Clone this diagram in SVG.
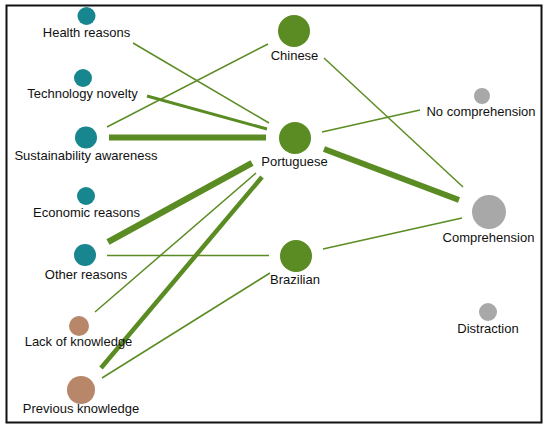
<svg xmlns="http://www.w3.org/2000/svg" width="550" height="430" viewBox="0 0 550 430">
<style>
text{font-family:"Liberation Sans",Arial,sans-serif;font-size:13px;fill:#111;text-anchor:middle}
.e{stroke:#5b8c23;fill:none;stroke-linecap:butt}
.t{fill:#17868f}.g{fill:#5b8c23}.b{fill:#b8876a}.y{fill:#a8a8a8}
</style>
<rect x="0" y="0" width="550" height="430" fill="#fff"/>
<rect x="6.5" y="5.5" width="535" height="417" fill="none" stroke="#111" stroke-width="2"/>
<g id="connectors">
<line class="e" x1="133" y1="43" x2="269" y2="123" stroke-width="1.5"/>
<line class="e" x1="107" y1="127" x2="268" y2="44" stroke-width="1.5"/>
<line class="e" x1="147" y1="96" x2="267" y2="129" stroke-width="3"/>
<line class="e" x1="109" y1="137.5" x2="266" y2="137.5" stroke-width="6"/>
<line class="e" x1="108" y1="242" x2="252" y2="163" stroke-width="6.5"/>
<line class="e" x1="95" y1="312" x2="256" y2="173" stroke-width="1.5"/>
<line class="e" x1="101" y1="368" x2="262" y2="177" stroke-width="4.5"/>
<line class="e" x1="107" y1="255.5" x2="269" y2="255.5" stroke-width="1.5"/>
<line class="e" x1="102" y1="378" x2="270" y2="273" stroke-width="1.5"/>
<line class="e" x1="324" y1="58" x2="463" y2="187" stroke-width="1.5"/>
<line class="e" x1="322" y1="132" x2="420" y2="110" stroke-width="1.5"/>
<line class="e" x1="324" y1="149" x2="459" y2="200" stroke-width="6"/>
<line class="e" x1="323" y1="249" x2="462" y2="218" stroke-width="1.5"/>
</g>
<g id="health"><circle class="t" cx="86.5" cy="16" r="9"/><text x="86.5" y="36.5">Health reasons</text></g>
<g id="technology"><circle class="t" cx="83" cy="78" r="9"/><text x="82.5" y="98">Technology novelty</text></g>
<g id="sustainability"><circle class="t" cx="86" cy="137.5" r="11"/><text x="86" y="160">Sustainability awareness</text></g>
<g id="economic"><circle class="t" cx="86" cy="196" r="9"/><text x="86.5" y="216.5">Economic reasons</text></g>
<g id="other"><circle class="t" cx="85" cy="255" r="11"/><text x="86" y="278.5">Other reasons</text></g>
<g id="lack"><circle class="b" cx="79" cy="326" r="10"/><text x="78.5" y="346">Lack of knowledge</text></g>
<g id="previous"><circle class="b" cx="81" cy="390" r="14"/><text x="81" y="413">Previous knowledge</text></g>
<g id="chinese"><circle class="g" cx="294" cy="31" r="16"/><text x="294.5" y="59.5">Chinese</text></g>
<g id="portuguese"><circle class="g" cx="295" cy="138" r="16"/><text x="294.5" y="166">Portuguese</text></g>
<g id="brazilian"><circle class="g" cx="296" cy="256" r="16"/><text x="295" y="284">Brazilian</text></g>
<g id="nocomprehension"><circle class="y" cx="482" cy="96" r="8"/><text x="481" y="116">No comprehension</text></g>
<g id="comprehension"><circle class="y" cx="489" cy="212" r="17"/><text x="488.5" y="242">Comprehension</text></g>
<g id="distraction"><circle class="y" cx="488" cy="312" r="9"/><text x="488" y="333">Distraction</text></g>
</svg>
